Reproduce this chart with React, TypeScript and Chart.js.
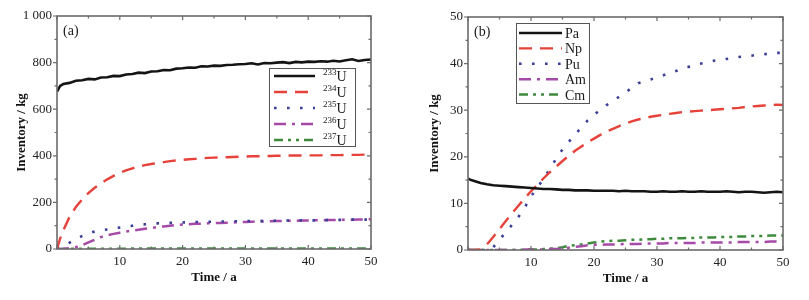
import React, { useEffect, useRef } from 'react';
import { Chart, registerables } from 'chart.js';

Chart.register(...registerables);

// ---------- DATA ----------
const years = [0, 0.5, 1, 2, 3, 4, 5, 6, 7, 8, 9, 10, 11, 12, 13, 14, 15, 16, 17, 18, 19, 20,
  21, 22, 23, 24, 25, 26, 27, 28, 29, 30, 31, 32, 33, 34, 35, 36, 37, 38, 39, 40,
  41, 42, 43, 44, 45, 46, 47, 48, 49, 50];

// Panel (a): uranium isotopes, kg
const u233 = [675, 700, 708, 713, 722, 724, 730, 728, 736, 737, 743, 742, 749, 751, 757, 755, 762, 763, 768, 767,
  774, 776, 779, 778, 784, 783, 787, 786, 790, 791, 793, 794, 797, 792, 798, 797, 800, 802, 798, 803, 801, 804,
  803, 806, 804, 808, 805, 810, 814, 807, 811, 813];
const u234 = [0, 45, 80, 138, 180, 212, 240, 263, 282, 299, 314, 327, 337, 346, 354, 360, 365, 369, 373, 377,
  380, 383, 385, 387, 389, 391, 392, 393, 394, 395, 396, 397, 398, 398, 399, 399, 400, 400, 401, 401, 401, 402,
  402, 402, 403, 403, 403, 404, 404, 404, 405, 405];
const u235 = [0, 7, 14, 27, 41, 56, 67, 75, 80, 84, 88, 92, 96, 100, 103, 106, 108, 110, 111, 112,
  113, 114, 115, 116, 116, 117, 117, 118, 118, 119, 119, 120, 120, 120, 121, 121, 121, 122, 122, 122, 123, 123,
  123, 124, 124, 125, 125, 125, 126, 126, 126, 127];
const u236 = [0, 0, 1, 4, 8, 16, 28, 40, 51, 59, 65, 70, 75, 79, 83, 87, 90, 94, 97, 100,
  103, 105, 106, 108, 109, 110, 111, 112, 113, 114, 115, 116, 117, 118, 118, 119, 120, 120, 121, 121, 122, 122,
  123, 123, 124, 124, 125, 126, 126, 127, 127, 128];
const u237 = [0, 0.2, 0.4, 0.7, 1, 1.2, 1.3, 1.4, 1.5, 1.5, 1.6, 1.6, 1.6, 1.7, 1.7, 1.7, 1.7, 1.8, 1.8, 1.8,
  1.8, 1.8, 1.8, 1.8, 1.8, 1.9, 1.9, 1.9, 1.9, 1.9, 1.9, 1.9, 1.9, 1.9, 1.9, 1.9, 1.9, 2, 2, 2, 2, 2,
  2, 2, 2, 2, 2, 2, 2, 2, 2, 2];

// Panel (b): transuranics and Pa, kg
const pa = [15.3, 15.0, 14.8, 14.4, 14.1, 13.9, 13.8, 13.7, 13.6, 13.5, 13.4, 13.3, 13.2, 13.1, 13.1, 13.0, 12.9, 12.9, 12.8, 12.8,
  12.8, 12.7, 12.7, 12.7, 12.7, 12.6, 12.7, 12.6, 12.6, 12.6, 12.5, 12.5, 12.6, 12.5, 12.5, 12.6, 12.5, 12.5, 12.6, 12.5, 12.5, 12.5,
  12.6, 12.5, 12.4, 12.5, 12.5, 12.4, 12.3, 12.4, 12.5, 12.4];
const np = [0, 0, 0, 0.1, 1.2, 2.8, 4.5, 6.2, 7.9, 9.5, 11.1, 12.6, 14.0, 15.4, 16.7, 17.9, 19.1, 20.2, 21.3, 22.2,
  23.1, 23.9, 24.7, 25.4, 26.0, 26.6, 27.1, 27.6, 28.0, 28.3, 28.6, 28.8, 29.0, 29.2, 29.4, 29.6, 29.7, 29.8, 29.9, 30.0, 30.1, 30.2,
  30.3, 30.4, 30.5, 30.7, 30.8, 30.9, 31.0, 31.1, 31.2, 31.1];
const pu = [0, 0, 0, 0, 0, 0.6, 2.2, 3.8, 5.4, 7.1, 9.1, 11.5, 13.4, 15.3, 17.4, 19.6, 21.6, 23.2, 24.8, 26.3,
  27.8, 29.0, 30.1, 31.1, 32.0, 32.9, 33.8, 34.8, 35.8, 36.2, 36.6, 37.1, 37.5, 38.0, 38.4, 38.9, 39.3, 39.6, 40.0, 40.3, 40.6, 40.8,
  41.0, 41.2, 41.4, 41.6, 41.7, 41.9, 42.0, 42.2, 42.3, 42.3];
const am = [0, 0, 0, 0, 0, 0, 0, 0, 0, 0, 0.1, 0.1, 0.1, 0.1, 0.2, 0.2, 0.3, 0.5, 0.7, 0.8,
  1.0, 1.1, 1.1, 1.2, 1.2, 1.2, 1.3, 1.3, 1.3, 1.4, 1.4, 1.4, 1.4, 1.5, 1.5, 1.5, 1.5, 1.5, 1.6, 1.6, 1.6, 1.6,
  1.6, 1.6, 1.7, 1.7, 1.7, 1.7, 1.7, 1.8, 1.8, 1.8];
const cm = [0, 0, 0, 0, 0, 0, 0, 0, 0, 0, 0.1, 0.1, 0.1, 0.2, 0.3, 0.4, 0.6, 0.9, 1.0, 1.2,
  1.4, 1.6, 1.8, 1.9, 2.0, 2.0, 2.1, 2.2, 2.2, 2.3, 2.3, 2.4, 2.4, 2.5, 2.5, 2.5, 2.6, 2.6, 2.7, 2.7, 2.7, 2.8,
  2.8, 2.8, 2.9, 2.9, 3.0, 3.0, 3.0, 3.1, 3.1, 3.1];

const labelsA = [
  { sup: '233', main: 'U' },
  { sup: '234', main: 'U' },
  { sup: '235', main: 'U' },
  { sup: '236', main: 'U' },
  { sup: '237', main: 'U' },
];
const labelsB = [
  { sup: '', main: 'Pa' },
  { sup: '', main: 'Np' },
  { sup: '', main: 'Pu' },
  { sup: '', main: 'Am' },
  { sup: '', main: 'Cm' },
];

// ---------- STYLES ----------
const STYLES = [
  { color: '#141414', dash: [] as number[], width: 2.6 },
  { color: '#e6423a', dash: [13, 8], width: 2.4 },
  { color: '#3b3f98', dash: [2.6, 10.4], width: 2.6 },
  { color: '#a64aa8', dash: [12, 6, 3, 6], width: 2.5 },
  { color: '#3e8b3e', dash: [9, 5, 3, 5, 3, 5], width: 2.5 },
];

const SERIF = '"Liberation Serif", "DejaVu Serif", serif';
const FRAME = '#6b6b6b';

function buildDatasets(series: number[][], labels: { sup: string; main: string }[]) {
  return series.map((vals, i) => ({
    label: labels[i].sup + labels[i].main,
    data: years.map((t, k) => ({ x: t, y: vals[k] })),
    borderColor: STYLES[i].color,
    backgroundColor: STYLES[i].color,
    borderDash: STYLES[i].dash,
    borderWidth: STYLES[i].width,
    pointRadius: 0,
    tension: 0,
    fill: false,
  }));
}

const decorPlugin = {
  id: 'decor',
  afterDraw(chart: any, _args: any, opts: any) {
    const ctx = chart.ctx as CanvasRenderingContext2D;
    const a = chart.chartArea;
    const xs = chart.scales.x;
    const ys = chart.scales.y;
    ctx.save();
    ctx.setLineDash([]);
    ctx.strokeStyle = FRAME;
    ctx.lineWidth = 1.2;
    // x ticks
    const xVals = xs.ticks.map((t: any) => t.value);
    const xStep = xVals[1] - xVals[0];
    const drawX = (v: number, len: number) => {
      const p = xs.getPixelForValue(v);
      ctx.beginPath();
      ctx.moveTo(p, a.bottom);
      ctx.lineTo(p, a.bottom - len);
      ctx.moveTo(p, a.top);
      ctx.lineTo(p, a.top + len);
      ctx.stroke();
    };
    xVals.forEach((v: number) => drawX(v, 4));
    xVals.slice(0, -1).forEach((v: number) => drawX(v + xStep / 2, 2.5));
    // y ticks
    const yVals = ys.ticks.map((t: any) => t.value);
    const yStep = yVals[1] - yVals[0];
    const drawY = (v: number, len: number) => {
      const p = ys.getPixelForValue(v);
      ctx.beginPath();
      ctx.moveTo(a.left, p);
      ctx.lineTo(a.left - len, p);
      ctx.moveTo(a.right, p);
      ctx.lineTo(a.right - len, p);
      ctx.stroke();
    };
    yVals.forEach((v: number) => drawY(v, 4));
    yVals.slice(0, -1).forEach((v: number) => drawY(v + yStep / 2, 2.5));
    // frame
    ctx.lineWidth = 1.6;
    ctx.strokeRect(a.left, a.top, a.right - a.left, a.bottom - a.top);

    // panel label
    ctx.fillStyle = '#1a1a1a';
    ctx.font = `14px ${SERIF}`;
    ctx.textBaseline = 'middle';
    ctx.textAlign = 'left';
    ctx.fillText(opts.panel, a.left + 6, a.top + 15);

    // legend
    const L = opts.legend;
    ctx.fillStyle = '#ffffff';
    ctx.fillRect(L.x1, L.y1, L.x2 - L.x1, L.y2 - L.y1);
    ctx.strokeStyle = '#555555';
    ctx.lineWidth = 1;
    ctx.strokeRect(L.x1 + 0.5, L.y1 + 0.5, L.x2 - L.x1, L.y2 - L.y1);
    chart.data.datasets.forEach((ds: any, i: number) => {
      const y = L.row0 + i * L.dy;
      ctx.save();
      ctx.strokeStyle = ds.borderColor;
      ctx.lineWidth = ds.borderWidth;
      ctx.setLineDash(ds.borderDash || []);
      ctx.beginPath();
      ctx.moveTo(L.lx1, y);
      ctx.lineTo(L.lx2, y);
      ctx.stroke();
      ctx.restore();
      const lab = opts.labels[i];
      ctx.fillStyle = '#1a1a1a';
      ctx.textBaseline = 'alphabetic';
      let tx = L.tx;
      if (lab.sup) {
        ctx.font = `9px ${SERIF}`;
        ctx.fillText(lab.sup, tx, y - 1);
        tx += ctx.measureText(lab.sup).width;
      }
      ctx.font = `14px ${SERIF}`;
      ctx.fillText(lab.main, tx, y + 5);
    });
    ctx.restore();
  },
};

function fmtThousands(v: number) {
  const s = String(Math.round(v));
  return s.replace(/\B(?=(\d{3})+(?!\d))/g, ' ');
}

type PanelProps = {
  width: number;
  series: number[][];
  labels: { sup: string; main: string }[];
  yMax: number;
  yStep: number;
  padding: { left: number; right: number; top: number; bottom: number };
  yAxisWidth: number;
  panel: string;
  legend: any;
};

function Panel(props: PanelProps) {
  const ref = useRef<HTMLCanvasElement | null>(null);
  useEffect(() => {
    if (!ref.current) return;
    const tickFont = { family: SERIF, size: 13 };
    const titleFont = { family: SERIF, size: 13, weight: 'bold' as const };
    const chart = new Chart(ref.current, {
      type: 'line',
      data: { datasets: buildDatasets(props.series, props.labels) as any },
      options: {
        animation: false,
        responsive: false,
        devicePixelRatio: 1,
        layout: { padding: props.padding },
        plugins: {
          legend: { display: false },
          tooltip: { enabled: false },
          decor: { panel: props.panel, legend: props.legend, labels: props.labels },
        } as any,
        scales: {
          x: {
            type: 'linear',
            min: 0,
            max: 50,
            grid: { display: false, drawTicks: false },
            border: { display: false },
            ticks: {
              stepSize: 10,
              padding: 5,
              color: '#222',
              font: tickFont,
              maxRotation: 0,
              callback: (v: any) => (Number(v) === 0 ? '' : String(v)),
            },
            title: { display: true, text: 'Time / a', color: '#111', font: titleFont, padding: { top: 4, bottom: 4 } },
            afterFit: (s: any) => {
              s.height = 40;
            },
          },
          y: {
            type: 'linear',
            min: 0,
            max: props.yMax,
            grid: { display: false, drawTicks: false },
            border: { display: false },
            ticks: {
              stepSize: props.yStep,
              padding: 5,
              color: '#222',
              font: tickFont,
              callback: (v: any) => fmtThousands(Number(v)),
            },
            title: { display: true, text: 'Inventory / kg', color: '#111', font: titleFont, padding: { top: 4, bottom: 4 } },
            afterFit: (s: any) => {
              s.width = props.yAxisWidth;
            },
          },
        },
      },
      plugins: [decorPlugin],
    });
    return () => chart.destroy();
  }, []);
  return <canvas ref={ref} width={props.width} height={300} style={{ display: 'block', width: props.width, height: 300 }} />;
}

export default function App() {
  return (
    <div style={{ position: 'absolute', left: 0, top: 0, width: 809, height: 300, background: '#fff', display: 'flex' }}>
      <Panel
        width={400}
        series={[u233, u234, u235, u236, u237]}
        labels={labelsA}
        yMax={1000}
        yStep={200}
        padding={{ left: 10, right: 29, top: 16, bottom: 11 }}
        yAxisWidth={47}
        panel="(a)"
        legend={{ x1: 269, y1: 68, x2: 355, y2: 146, lx1: 274, lx2: 315, tx: 323, row0: 76, dy: 16 }}
      />
      <Panel
        width={409}
        series={[pa, np, pu, am, cm]}
        labels={labelsB}
        yMax={50}
        yStep={10}
        padding={{ left: 23, right: 26, top: 17, bottom: 10 }}
        yAxisWidth={45}
        panel="(b)"
        legend={{ x1: 116, y1: 23, x2: 189, y2: 103, lx1: 119, lx2: 162, tx: 165, row0: 33, dy: 15.4 }}
      />
    </div>
  );
}
